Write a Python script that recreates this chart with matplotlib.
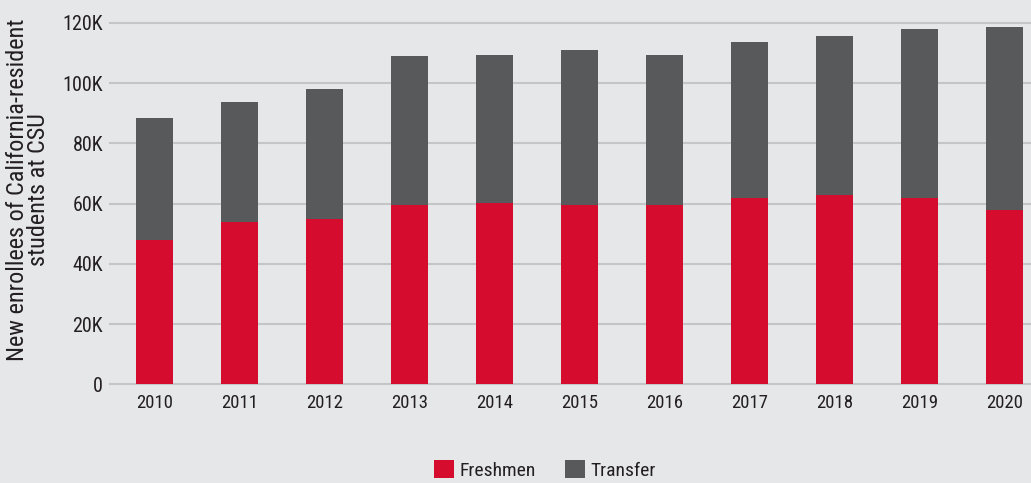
import matplotlib
matplotlib.use("Agg")
import matplotlib.pyplot as plt
from matplotlib.ticker import FuncFormatter
from matplotlib import font_manager

years = ["2010", "2011", "2012", "2013", "2014", "2015", "2016", "2017", "2018", "2019", "2020"]
freshmen = [48000, 54000, 55000, 59500, 60300, 59600, 59600, 61900, 62900, 61900, 58000]
totals = [88500, 93900, 98200, 109200, 109500, 111100, 109500, 113800, 115800, 118100, 118800]
transfer = [t - f for t, f in zip(totals, freshmen)]

avail = {f.name for f in font_manager.fontManager.ttflist}
fams = [f for f in ["Liberation Sans Narrow", "Roboto Condensed", "Roboto", "DejaVu Sans"] if f in avail]
plt.rcParams['font.family'] = fams

BG = "#E6E7E9"
RED = "#D50C2E"
GREY = "#58595B"
GRID = "#C4C5C7"
TXT = "#231F20"

W, H = 1031, 483
fig = plt.figure(figsize=(W / 100, H / 100), dpi=100, facecolor=BG)
ax = fig.add_axes([110 / W, (H - 384.3) / H, (W - 110) / W, (384.3 - 23) / H])
ax.set_facecolor(BG)

x = list(range(len(years)))
ax.bar(x, freshmen, width=0.435, color=RED, label="Freshmen", zorder=3)
ax.bar(x, transfer, bottom=freshmen, width=0.435, color=GREY, label="Transfer", zorder=3)

ax.set_xlim(-0.524, 10.31)
ax.set_ylim(0, 120000)
ax.set_yticks(range(0, 120001, 20000))
ax.yaxis.set_major_formatter(FuncFormatter(lambda v, p: "0" if v == 0 else f"{int(v/1000)}K"))
ax.set_xticks(x)
ax.set_xticklabels(years)
ax.grid(axis='y', color=GRID, linewidth=1.5, zorder=0)
for gl in ax.get_ygridlines():
    gl.set_clip_on(False)
for s in ax.spines.values():
    s.set_visible(False)
ax.tick_params(axis='y', length=0, pad=5, labelsize=14.5, labelcolor=TXT)
ax.tick_params(axis='x', length=0, pad=7, labelsize=13.5, labelcolor=TXT)

fig.text(28 / W, 1 - 190 / H, "New enrollees of California-resident\nstudents at CSU",
         rotation=90, ha='center', va='center', fontsize=17.5, color=TXT, linespacing=0.88)

leg = fig.legend(loc='center', bbox_to_anchor=(545 / W, 1 - 470 / H), ncol=2, frameon=False,
                 fontsize=14, handlelength=1.0, handleheight=1.0, handletextpad=0.3,
                 columnspacing=1.5, labelcolor=TXT)

fig.savefig("out.png", dpi=100, facecolor=BG)
